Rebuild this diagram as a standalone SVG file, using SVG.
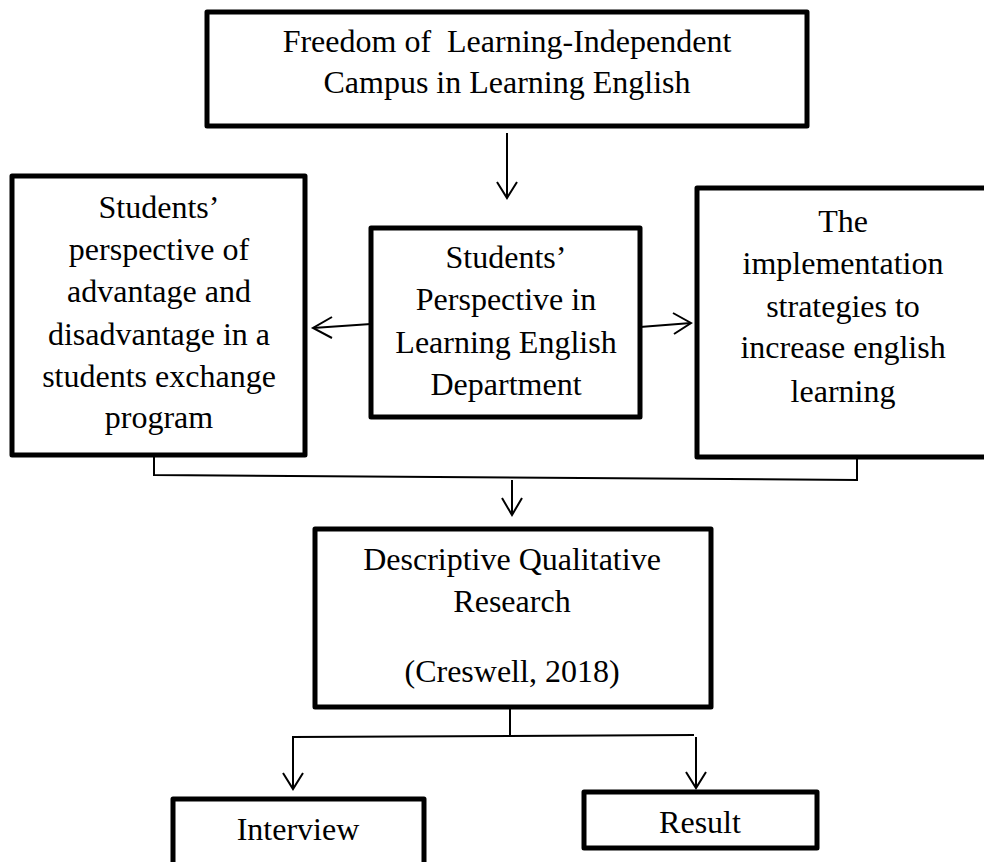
<svg xmlns="http://www.w3.org/2000/svg" width="984" height="862" viewBox="0 0 984 862">
<style>
.box{fill:#fff;stroke:#000;stroke-width:5;stroke-linejoin:round}
.t{font-family:"Liberation Serif","Times New Roman",serif;font-size:32px;fill:#000;text-anchor:middle}
.c{fill:none;stroke:#000;stroke-width:2}
.ah{fill:none;stroke:#000;stroke-width:2;stroke-linejoin:miter}
</style>
<rect width="984" height="862" fill="#fff"/>
<g id="connectors">
<path class="c" d="M507 133 V198"/><path class="ah" d="M497 182 L507 198 L517 182"/>
<path class="c" d="M371 324 L313 328"/><path class="ah" d="M332 317 L313 328 L332 338"/>
<path class="c" d="M640 327 L691 323"/><path class="ah" d="M673 313 L691 323 L674 334"/>
<path class="c" d="M154 457 V475 L857 480 V459"/>
<path class="c" d="M512 480 V515"/><path class="ah" d="M502 498 L512 515 L522 498"/>
<path class="c" d="M510 709 V736"/>
<path class="c" d="M293 789 V737 L694 735"/>
<path class="c" d="M696 737 V788"/>
<path class="ah" d="M283 773 L293 789 L303 773"/>
<path class="ah" d="M686 772 L696 788 L706 772"/>
</g>
<g id="freedom">
<rect class="box" x="207" y="12" width="600" height="114"/>
<text class="t" x="507" y="52" xml:space="preserve" style="white-space:pre">Freedom of  Learning-Independent</text>
<text class="t" x="507" y="93">Campus in Learning English</text>
</g>
<g id="advantage">
<rect class="box" x="12" y="176" width="293" height="279"/>
<text class="t" x="159" y="218">Students’</text>
<text class="t" x="159" y="260">perspective of</text>
<text class="t" x="159" y="302">advantage and</text>
<text class="t" x="159" y="345">disadvantage in a</text>
<text class="t" x="159" y="387">students exchange</text>
<text class="t" x="159" y="428">program</text>
</g>
<g id="perspective">
<rect class="box" x="371" y="228" width="269" height="189"/>
<text class="t" x="506" y="268">Students’</text>
<text class="t" x="506" y="310">Perspective in</text>
<text class="t" x="506" y="353">Learning English</text>
<text class="t" x="506" y="395">Department</text>
</g>
<g id="implementation">
<rect class="box" x="697" y="188" width="300" height="269"/>
<text class="t" x="843" y="232">The</text>
<text class="t" x="843" y="274">implementation</text>
<text class="t" x="843" y="317">strategies to</text>
<text class="t" x="843" y="358">increase english</text>
<text class="t" x="843" y="402">learning</text>
</g>
<g id="descriptive">
<rect class="box" x="315" y="529" width="396" height="178"/>
<text class="t" x="512" y="570">Descriptive Qualitative</text>
<text class="t" x="512" y="612">Research</text>
<text class="t" x="512" y="682">(Creswell, 2018)</text>
</g>
<g id="interview">
<rect class="box" x="173" y="799" width="251" height="80"/>
<text class="t" x="298" y="840">Interview</text>
</g>
<g id="result">
<rect class="box" x="584" y="792" width="233" height="56"/>
<text class="t" x="700" y="833">Result</text>
</g>
</svg>
